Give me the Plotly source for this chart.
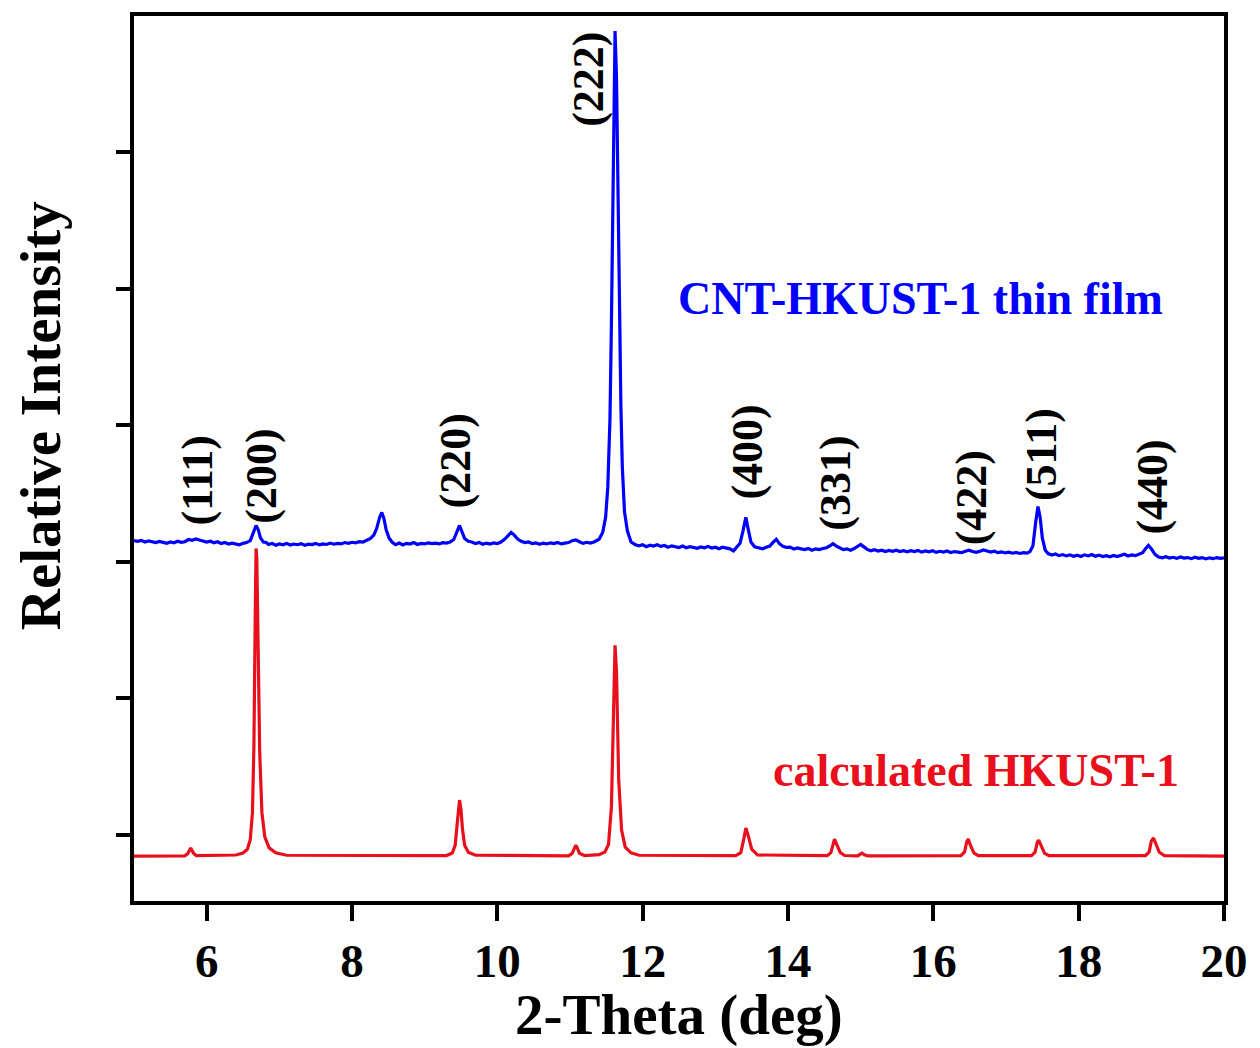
import plotly.graph_objects as go

# ---- calculated HKUST-1 pattern (2-theta in deg, intensity in a.u.) ----
calc_theta = [
    5.00, 5.70, 5.74, 5.78, 5.82, 5.86,
    6.40, 6.50, 6.56, 6.60, 6.63, 6.65, 6.67, 6.68, 6.69, 6.71, 6.73, 6.76, 6.80, 6.86, 6.95, 7.10,
    9.30, 9.38, 9.42, 9.45, 9.47, 9.48, 9.50, 9.52, 9.55, 9.60, 9.70,
    10.98, 11.03, 11.06, 11.08, 11.10, 11.13, 11.20,
    11.40, 11.48, 11.53, 11.57, 11.60, 11.62, 11.64, 11.67, 11.71, 11.76, 11.84, 11.95,
    13.28, 13.35, 13.39, 13.42, 13.45, 13.50, 13.58,
    14.54, 14.59, 14.62, 14.64, 14.67, 14.72, 14.78,
    14.96, 15.00, 15.02, 15.05, 15.10,
    16.38, 16.43, 16.46, 16.48, 16.51, 16.56, 16.62,
    17.35, 17.40, 17.43, 17.45, 17.48, 17.53, 17.59,
    18.92, 18.97, 19.00, 19.03, 19.06, 19.11, 19.18,
    20.00,
]
calc_counts = [
    0, 2, 18, 59, 20, 3,
    8, 22, 50, 120, 320, 800, 1850, 2253, 2180, 1500, 760, 320, 140, 60, 24, 6,
    4, 22, 80, 250, 385, 410, 340, 200, 80, 28, 6,
    2, 20, 60, 80, 60, 20, 4,
    10, 30, 85, 360, 1250, 1544, 1350, 560, 190, 65, 24, 6,
    3, 25, 120, 205, 155, 50, 8,
    3, 25, 95, 124, 85, 25, 4,
    2, 16, 22, 10, 1,
    3, 30, 105, 124, 80, 22, 3,
    3, 28, 100, 117, 78, 22, 3,
    3, 30, 110, 132, 95, 28, 4,
    0,
]

# ---- measured CNT-HKUST-1 thin film pattern ----
film_theta = [
    5.00, 5.05, 5.10, 5.15, 5.20, 5.25, 5.30, 5.35, 5.40, 5.45, 5.50, 5.55, 5.60, 5.65, 5.70, 5.75,
    5.80, 5.85, 5.90, 5.95, 6.00, 6.05, 6.10, 6.15, 6.20, 6.25, 6.30, 6.35, 6.40, 6.45, 6.50, 6.55,
    6.60, 6.64, 6.68, 6.71, 6.74, 6.78, 6.82,
    6.85, 6.90, 6.95, 7.00, 7.05, 7.10, 7.15, 7.20, 7.25, 7.30, 7.35, 7.40, 7.45, 7.50,
    7.55, 7.60, 7.65, 7.70, 7.75, 7.80, 7.85, 7.90, 7.95, 8.00, 8.05, 8.10, 8.15, 8.20,
    8.25, 8.30, 8.34, 8.38, 8.41, 8.44, 8.47, 8.51, 8.55, 8.60,
    8.65, 8.70, 8.75, 8.80, 8.85, 8.90, 8.95, 9.00, 9.05, 9.10, 9.15, 9.20, 9.25, 9.30, 9.35,
    9.40, 9.44, 9.48, 9.51, 9.55, 9.60, 9.65,
    9.70, 9.75, 9.80, 9.85, 9.90, 9.95, 10.00, 10.05,
    10.10, 10.15, 10.19, 10.23, 10.28, 10.33,
    10.38, 10.43, 10.48, 10.53, 10.58, 10.63, 10.68, 10.73, 10.78, 10.83, 10.88, 10.93,
    10.98, 11.03, 11.08, 11.13, 11.18, 11.23, 11.28, 11.33, 11.36,
    11.40, 11.45, 11.49, 11.52, 11.55, 11.57, 11.59, 11.61, 11.62, 11.64, 11.66, 11.68,
    11.70, 11.72, 11.75, 11.79, 11.84, 11.90,
    11.95, 12.00, 12.05, 12.10, 12.15, 12.20, 12.25, 12.30, 12.35, 12.40, 12.45, 12.50,
    12.55, 12.60, 12.65, 12.70, 12.75, 12.80, 12.85, 12.90, 12.95, 13.00, 13.05, 13.10,
    13.15, 13.20, 13.25, 13.30,
    13.34, 13.38, 13.42, 13.45, 13.49, 13.54, 13.60,
    13.65, 13.70, 13.75, 13.80, 13.84, 13.88, 13.93, 13.98,
    14.03, 14.08, 14.13, 14.18, 14.23, 14.28, 14.33, 14.38, 14.43, 14.48, 14.53,
    14.58, 14.62, 14.66, 14.71, 14.76, 14.81, 14.86, 14.91,
    14.96, 15.00, 15.04, 15.09,
    15.14, 15.19, 15.24, 15.29, 15.34, 15.39, 15.44, 15.49, 15.54, 15.59, 15.64, 15.69,
    15.74, 15.79, 15.84, 15.89, 15.94, 15.99, 16.04, 16.09, 16.14, 16.19, 16.24, 16.29,
    16.34, 16.39, 16.44, 16.49, 16.54, 16.59, 16.64, 16.69, 16.74, 16.79, 16.84, 16.89,
    16.94, 16.99, 17.04, 17.09, 17.14, 17.19, 17.24, 17.29, 17.33,
    17.37, 17.41, 17.44, 17.47, 17.50, 17.54, 17.58, 17.63,
    17.68, 17.73, 17.78, 17.83, 17.88, 17.93, 17.98, 18.03, 18.08, 18.13, 18.18, 18.23,
    18.28, 18.33, 18.38, 18.43, 18.48, 18.53, 18.58, 18.63, 18.68, 18.73, 18.78, 18.83, 18.88,
    18.92, 18.96, 19.00, 19.05, 19.10,
    19.15, 19.20, 19.25, 19.30, 19.35, 19.40, 19.45, 19.50, 19.55, 19.60, 19.65, 19.70,
    19.75, 19.80, 19.85, 19.90, 19.95, 20.00,
]
film_counts = [
    2310, 2305, 2312, 2300, 2308, 2302, 2296, 2304, 2298, 2290, 2300, 2294, 2306, 2298, 2302, 2318,
    2312, 2322, 2315, 2308, 2300, 2306, 2294, 2302, 2288, 2296, 2285, 2292, 2286, 2280, 2290, 2296,
    2310, 2360, 2421, 2390, 2330, 2300, 2296,
    2282, 2290, 2276, 2286, 2280, 2290, 2278, 2285, 2280, 2288, 2276, 2284, 2281, 2290,
    2279, 2286, 2282, 2292, 2284, 2290, 2286, 2296, 2290, 2298, 2294, 2302, 2300, 2312,
    2325, 2350, 2400, 2480, 2516, 2470, 2390, 2330, 2300, 2280,
    2292, 2278, 2290, 2285, 2296, 2282, 2290, 2286, 2294, 2288, 2292, 2286, 2295, 2292, 2300,
    2318, 2370, 2421, 2380, 2325, 2305, 2300,
    2288, 2296, 2284, 2292, 2285, 2294, 2288, 2300,
    2320, 2350, 2370, 2352, 2322, 2305,
    2296, 2300, 2288, 2294, 2284, 2292, 2286, 2294, 2288, 2296, 2286, 2292,
    2296, 2310, 2316, 2302, 2290, 2298, 2292, 2300, 2310,
    2320, 2370, 2480, 2700, 3200, 3900, 4900, 5800, 6042, 5700, 4900, 4000,
    3300, 2850, 2520, 2380, 2300, 2280,
    2272, 2280, 2266, 2276, 2270, 2280, 2268, 2274, 2262, 2272, 2266, 2260,
    2270, 2258, 2266, 2262, 2254, 2264, 2258, 2268, 2256, 2262, 2250, 2262,
    2256, 2250, 2235, 2262,
    2290, 2380, 2480, 2400, 2300, 2265, 2258,
    2250, 2262, 2270, 2300, 2319, 2290, 2268, 2260,
    2262, 2248, 2256, 2250, 2244, 2252, 2240, 2250, 2244, 2252, 2258,
    2274, 2288, 2272, 2255, 2244, 2250, 2240, 2252,
    2268, 2282, 2266, 2246,
    2236, 2244, 2234, 2240, 2230, 2238, 2232, 2240, 2230, 2236, 2228, 2236,
    2230, 2238, 2226, 2234, 2228, 2236, 2224, 2232, 2226, 2234, 2222, 2230,
    2226, 2222, 2232, 2240, 2230, 2224, 2232, 2242, 2234, 2226, 2232, 2222,
    2228, 2220, 2226, 2218, 2224, 2216, 2222, 2218, 2230,
    2270, 2450, 2560, 2480, 2330, 2240, 2215, 2205,
    2212, 2200, 2208, 2198, 2206, 2196, 2204, 2194, 2206, 2198, 2208, 2196,
    2204, 2194, 2200, 2192, 2202, 2194, 2204, 2210, 2198, 2206, 2200, 2212, 2222,
    2250, 2275, 2250, 2210, 2190,
    2184, 2192, 2182, 2188, 2180, 2190, 2182, 2186, 2178, 2188, 2180, 2186,
    2176, 2184, 2178, 2186, 2180, 2184,
]

# ---- Miller index labels: text, 2-theta, height of label centre ----
hkl_labels = ["(111)", "(200)", "(220)", "(222)", "(400)", "(331)", "(422)", "(511)", "(440)"]
hkl_theta = [5.88, 6.75, 9.43, 11.26, 13.45, 14.65, 16.53, 17.49, 19.01]
hkl_height = [2750, 2780, 2897, 5691, 2955, 2729, 2626, 2941, 2699]

# ---- series names and their positions ----
series_names = ["CNT-HKUST-1 thin film", "calculated HKUST-1"]
series_theta = [15.82, 16.59]
series_height = [4082, 629]

BLUE = "#0000ff"
RED = "#e8101c"
SERIF = "Liberation Serif"

fig = go.Figure()
fig.add_trace(go.Scatter(x=film_theta, y=film_counts, mode="lines",
                         line=dict(color=BLUE, width=3.2), name=series_names[0]))
fig.add_trace(go.Scatter(x=calc_theta, y=calc_counts, mode="lines",
                         line=dict(color=RED, width=3.2), name=series_names[1]))

for txt, tx, ty in zip(hkl_labels, hkl_theta, hkl_height):
    fig.add_annotation(x=tx, y=ty, xref="x", yref="y", text="<b>" + txt + "</b>",
                       textangle=-90, showarrow=False, xanchor="center", yanchor="middle",
                       font=dict(family=SERIF, size=44, color="black"))

for txt, tx, ty, col in zip(series_names, series_theta, series_height, [BLUE, RED]):
    fig.add_annotation(x=tx, y=ty, xref="x", yref="y", text="<b>" + txt + "</b>",
                       showarrow=False, xanchor="center", yanchor="middle",
                       font=dict(family=SERIF, size=46, color=col))

# axis titles
fig.add_annotation(x=0.5, y=-0.1287, xref="paper", yref="paper",
                   text="<b>2-Theta (deg)</b>", showarrow=False,
                   xanchor="center", yanchor="middle",
                   font=dict(family=SERIF, size=57, color="black"))
fig.add_annotation(x=-0.0856, y=0.5485, xref="paper", yref="paper",
                   text="<b>Relative Intensity</b>", showarrow=False, textangle=-90,
                   xanchor="center", yanchor="middle",
                   font=dict(family=SERIF, size=57, color="black"))

fig.update_layout(
    width=1260, height=1048,
    margin=dict(l=134, r=28, t=15, b=147),
    paper_bgcolor="white", plot_bgcolor="white",
    showlegend=False,
)
fig.update_xaxes(
    range=[5, 20], tick0=0, dtick=2,
    showline=True, linecolor="black", linewidth=4, mirror=True,
    ticks="outside", ticklen=16, tickwidth=4, tickcolor="black",
    showgrid=False, zeroline=False,
    tickfont=dict(family=SERIF, size=47, color="black", weight="bold"),
)
fig.update_yaxes(
    range=[-329, 6152], tick0=154, dtick=1000,
    showline=True, linecolor="black", linewidth=4, mirror=True,
    ticks="outside", ticklen=14, tickwidth=4, tickcolor="black",
    showticklabels=False, showgrid=False, zeroline=False,
)

fig.write_html("out.html")
